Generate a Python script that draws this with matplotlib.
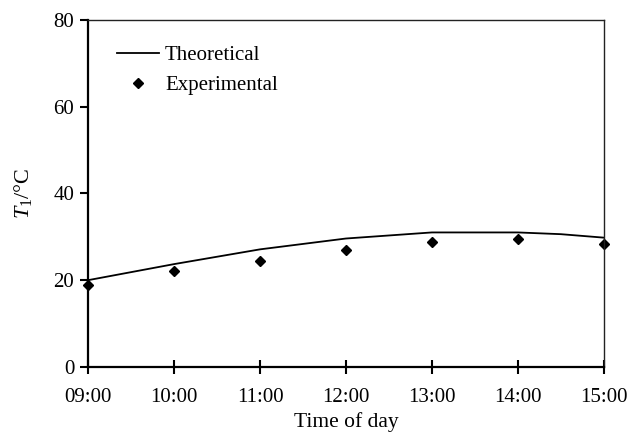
import matplotlib.pyplot as plt

# Dados
hours_theory = [9, 10, 11, 12, 13, 14, 14.5, 15]
t_theory = [20.0, 23.7, 27.1, 29.6, 31.0, 31.0, 30.6, 29.8]

hours_exp = [9, 10, 11, 12, 13, 14, 15]
t_exp = [19.0, 22.0, 24.5, 27.0, 28.7, 29.6, 28.4]

tick_hours = [9, 10, 11, 12, 13, 14, 15]
tick_labels = ["09:00", "10:00", "11:00", "12:00", "13:00", "14:00", "15:00"]

plt.rcParams['font.family'] = ['Liberation Serif', 'DejaVu Serif']
plt.rcParams['mathtext.fontset'] = 'custom'
plt.rcParams['mathtext.rm'] = 'Liberation Serif'
plt.rcParams['mathtext.it'] = 'Liberation Serif:italic'

fig = plt.figure(figsize=(6.43, 4.4), dpi=100)
ax = fig.add_axes([0.137, 0.166, 0.802, 0.789])

ax.plot(hours_theory, t_theory, color='black', linewidth=1.3, label='Theoretical', clip_on=False)
ax.plot(hours_exp, t_exp, linestyle='none', marker='D', markersize=5, color='black',
        label='Experimental', clip_on=False)

ax.set_xlim(9, 15)
ax.set_ylim(0, 80)
ax.set_xticks(tick_hours)
ax.set_xticklabels(tick_labels)
ax.set_yticks([0, 20, 40, 60, 80])

ax.tick_params(axis='x', direction='inout', length=10, width=1.5, labelsize=15, pad=10)
ax.tick_params(axis='y', direction='out', length=6, width=1.5, labelsize=15, pad=4)

ax.spines['left'].set_linewidth(1.6)
ax.spines['bottom'].set_linewidth(1.6)
ax.spines['top'].set_linewidth(1.0)
ax.spines['right'].set_linewidth(1.0)
ax.spines['top'].set_color('#222222')
ax.spines['right'].set_color('#222222')

ax.set_xlabel("Time of day", fontsize=15.5, labelpad=4)
ax.set_ylabel(r"$\mathit{T}_{\mathrm{1}}$/°C", fontsize=16, labelpad=14)

ax.legend(loc='upper left', frameon=False, fontsize=15, handlelength=2.0,
          handletextpad=0.3, labelspacing=0.5, borderaxespad=0.5,
          bbox_to_anchor=(0.02, 0.98))

fig.savefig("out.png", dpi=100)
